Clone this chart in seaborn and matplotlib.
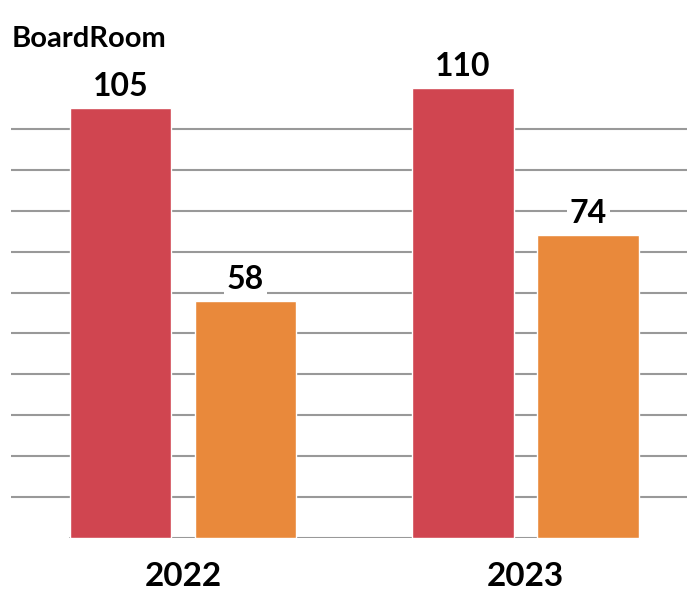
import pandas as pd
import matplotlib.pyplot as plt
import seaborn as sns

# Chart data
years = ['2022', '2023']
series = ['A', 'B']
values_a = [105, 110]
values_b = [58, 74]
grid_ticks = [10, 20, 30, 40, 50, 60, 70, 80, 90, 100]

data = pd.DataFrame({
    'Year': years * 2,
    'Series': [series[0]] * 2 + [series[1]] * 2,
    'Value': values_a + values_b,
})

sns.set_theme(style="white")
plt.rcParams['font.family'] = ['Lato', 'DejaVu Sans']

fig = plt.figure(figsize=(6.87, 5.9), dpi=100)
ax = fig.add_axes([11 / 687, 52 / 590, 676 / 687, 538 / 590])

sns.barplot(data=data, x='Year', y='Value', hue='Series', order=years,
            palette=['#D04550', '#E9893B'], width=0.73, gap=0.19,
            saturation=1, legend=False, ax=ax)

ax.set_xlim(-0.502, 1.4715)
ax.set_ylim(0, 131.5)
ax.set_axisbelow(True)
ax.set_yticks(grid_ticks)
ax.yaxis.grid(True, color='#999999', linewidth=1.5)
ax.set_yticklabels([])
ax.tick_params(axis='y', length=0)
ax.tick_params(axis='x', length=0, pad=17, labelsize=24, labelcolor='black')
for lbl in ax.get_xticklabels():
    lbl.set_fontweight('bold')
ax.set_xlabel('')
ax.set_ylabel('')
for s in ax.spines.values():
    s.set_visible(False)

# Baseline under bars
ax.axhline(0, xmin=0.087, xmax=0.827, color='#999999', linewidth=1.5, zorder=0.5)

# Value labels
for container in ax.containers:
    ax.bar_label(container, padding=5, fontsize=23, fontweight='bold',
                 color='black',
                 bbox=dict(facecolor='white', edgecolor='none', pad=2))

fig.text(12 / 687, 1 - 47 / 590, 'BoardRoom', fontsize=21, fontweight='bold',
         va='baseline', ha='left', color='black')

fig.savefig('out.png', dpi=100)
